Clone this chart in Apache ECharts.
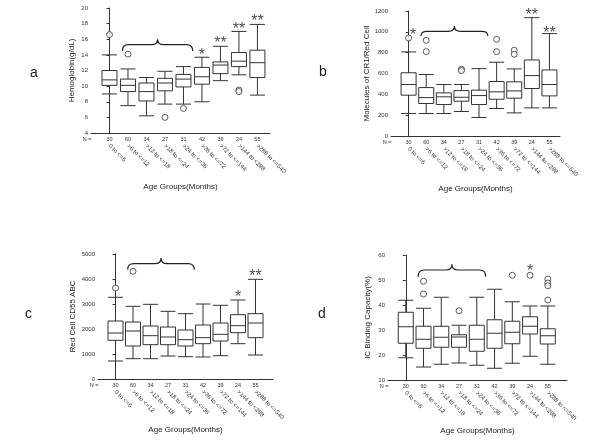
<!DOCTYPE html>
<html>
<head>
<meta charset="utf-8">
<script src="https://cdn.jsdelivr.net/npm/echarts@6/dist/echarts.min.js"></script>
<style>html,body{margin:0;padding:0;background:#fff;}#chart{width:600px;height:443px;}</style>
</head>
<body>
<div id="chart"></div>
<script>
// ---- data ----
const categories = ['0 to <=6', '>6 to <=12', '>12 to <=18', '>18 to <=24', '>24 to <=36', '>36 to <=72', '>72 to <=144', '>144 to <288', '>288 to <=540'];
const nCounts = [30, 60, 34, 27, 31, 42, 39, 24, 55];

// [min, Q1, median, Q3, max]
const hemoglobinBoxes = [[9.0,10.1,10.8,12.0,14.0],[7.5,9.3,10.1,10.9,12.2],[6.2,8.1,9.3,10.4,11.1],[7.7,9.4,10.4,11.0,11.9],[7.7,9.9,10.9,11.5,12.5],[8.0,10.25,11.2,12.4,13.7],[10.7,11.6,12.7,13.1,15.1],[11.45,12.5,13.2,14.3,17.0],[8.85,11.1,13.0,14.6,17.9]];
const hemoglobinOutliers = [[0,16.6],[1,14.1],[3,6.0],[4,7.15],[7,9.5],[7,9.3]];
const hemoglobinStars = [[5,14.4,'*'],[6,15.9,'**'],[7,17.8,'**'],[8,18.8,'**']];
const hemoglobinBrace = [0.7, 4.5, 14.5, 15.3, 16.0];

const cr1Boxes = [[216,392,494,607,807],[216,312,369,465,590],[216,302,376,414,494],[235,334,372,436,494],[178,302,388,440,647],[264,353,424,523,708],[222,363,433,520,644],[270,456,580,730,1136],[270,385,494,634,983]];
const cr1Outliers = [[0,941],[1,919],[1,810],[3,641],[3,628],[5,928],[5,810],[6,823],[6,785]];
const cr1Stars = [[0.25,1000,'*'],[7,1190,'**'],[8,1024,'**']];
const cr1Brace = [0.7, 4.5, 960, 1005, 1056];

const cd55Boxes = [[720,1547,1840,2320,3267],[813,1320,1920,2280,2907],[813,1373,1733,2120,2987],[920,1373,1680,2080,2707],[893,1320,1573,1960,2613],[880,1413,1653,2160,3000],[933,1520,1787,2240,2947],[1413,1853,2133,2573,3160],[960,1653,2240,2613,3987]];
const cd55Outliers = [[0,3640],[1,4307]];
const cd55Stars = [[7,3413,'*'],[8,4240,'**']];
const cd55Brace = [0.7, 4.5, 4373, 4613, 4840];

const icBoxes = [[18.9,24.7,31.3,37.1,41.9],[15.2,22.7,26.3,31.5,38.7],[16.3,23.1,27.1,31.5,43.1],[16.8,23.1,27.2,28.1,31.9],[15.9,21.5,26.3,31.9,43.1],[14.7,22.7,28.7,34.1,46.3],[16.7,24.5,29.1,33.5,41.3],[19.5,28.4,31.5,35.3,39.6],[16.3,24.4,27.7,30.5,39.6]];
const icOutliers = [[1,49.5],[1,44.4],[3,37.7],[6,51.9],[7,51.9],[8,50.4],[8,48.8],[8,47.7],[8,42.0]];
const icStars = [[7,55,'*']];
const icBrace = [0.7, 4.5, 51.3, 54.0, 56.3];

const xTitle = 'Age Groups(Months)';

// ---- layout ----
const panels = [
  {letter:'a', boxes:hemoglobinBoxes, outliers:hemoglobinOutliers, stars:hemoglobinStars, brace:hemoglobinBrace,
   yName:'Hemoglobin(g/dL)', yMin:4, yMax:20, yInt:2, grid:{left:91, top:8, width:179, height:125}, xMax:8.68, yGap:15, xGap:50, lpos:[30,66]},
  {letter:'b', boxes:cr1Boxes, outliers:cr1Outliers, stars:cr1Stars, brace:cr1Brace,
   yName:'Molecules of CR1/Red Cell', yMin:0, yMax:1200, yInt:200, grid:{left:391, top:11, width:169, height:125}, xMax:8.6, yGap:20, xGap:49, lpos:[319,65]},
  {letter:'c', boxes:cd55Boxes, outliers:cd55Outliers, stars:cd55Stars, brace:cd55Brace,
   yName:'Red Cell CD55 ABC', yMin:0, yMax:5000, yInt:1000, grid:{left:98, top:254, width:175, height:125}, xMax:9.0, yGap:21, xGap:47, lpos:[25,307]},
  {letter:'d', boxes:icBoxes, outliers:icOutliers, stars:icStars, brace:icBrace,
   yName:'IC Binding Capacity(%)', yMin:10, yMax:60, yInt:10, grid:{left:388, top:255, width:179, height:125}, xMax:9.08, yGap:16, xGap:47, lpos:[318,307]}
];

const ink = '#333';
const grids = [], xAxes = [], yAxes = [], series = [], titles = [];

function isInt(v){ return Math.abs(v - Math.round(v)) < 1e-6; }

panels.forEach((p, k) => {
  grids.push(Object.assign({containLabel:false}, p.grid));
  titles.push({text:p.letter, left:p.lpos[0], top:p.lpos[1], padding:0,
    textStyle:{fontSize:14, fontWeight:'normal', color:'#222', fontFamily:'Liberation Sans, Arial, sans-serif'}});
  // main x axis with N counts
  xAxes.push({type:'value', gridIndex:k, min:-1, max:p.xMax, interval:1, position:'bottom',
    axisLine:{show:true, onZero:false, lineStyle:{color:ink, width:1}}, axisTick:{show:false}, splitLine:{show:false},
    axisLabel:{fontSize:5.5, margin:3, color:ink,
      formatter:v => { if(!isInt(v)) return ''; const i=Math.round(v); if(i===-1) return '{n|N =}'; return nCounts[i]!==undefined ? String(nCounts[i]) : ''; },
      rich:{n:{fontSize:5.5, color:ink, padding:[0,8,0,0]}}},
    name:xTitle, nameLocation:'middle', nameGap:p.xGap, nameTextStyle:{fontSize:8, color:'#222'}});
  // category names (rotated)
  xAxes.push({type:'value', gridIndex:k, min:-1, max:p.xMax, interval:1, position:'bottom', offset:0,
    axisLine:{show:false}, axisTick:{show:false}, splitLine:{show:false},
    axisLabel:{fontSize:6, margin:12, rotate:-45, color:ink,
      formatter:v => { if(!isInt(v)) return ''; const i=Math.round(v); return categories[i] || ''; }}});
  yAxes.push({type:'value', gridIndex:k, min:p.yMin, max:p.yMax, interval:p.yInt,
    axisLine:{show:true, lineStyle:{color:ink, width:1}}, axisTick:{show:true, length:3, lineStyle:{color:ink}},
    splitLine:{show:false}, axisLabel:{fontSize:6, margin:3, color:ink, formatter:v => String(v)},
    name:p.yName, nameLocation:'middle', nameGap:p.yGap, nameTextStyle:{fontSize:8, color:'#222'}});

  const xi = 2*k, yi = k;
  series.push({type:'boxplot', xAxisIndex:xi, yAxisIndex:yi, silent:true, boxWidth:[15,15],
    itemStyle:{color:'#fff', borderColor:ink, borderWidth:1},
    data:p.boxes.map((b,i) => [i].concat(b))});
  series.push({type:'scatter', xAxisIndex:xi, yAxisIndex:yi, silent:true, symbol:'circle', symbolSize:6,
    itemStyle:{color:'#fff', borderColor:ink, borderWidth:1}, data:p.outliers});
  series.push({type:'scatter', xAxisIndex:xi, yAxisIndex:yi, silent:true, symbolSize:0,
    label:{show:true, position:'inside', formatter:'{b}', fontSize:16, color:'#222', offset:[0,4]},
    data:p.stars.map(s => ({name:s[2], value:[s[0], s[1]]}))});
  series.push({type:'custom', xAxisIndex:xi, yAxisIndex:yi, silent:true, clip:false,
    data:[p.brace],
    renderItem:(params, api) => {
      const x0 = api.value(0), x1 = api.value(1), yt = api.value(2), yb = api.value(3), yp = api.value(4);
      const xm = (x0 + x1) / 2;
      const L = api.coord([x0, yt]), Lb = api.coord([x0, yb]);
      const R = api.coord([x1, yt]);
      const M = api.coord([xm, yp]), Mb = api.coord([xm, yb]);
      const r = 6;
      const d = 'M' + L[0] + ',' + L[1] +
        ' Q' + L[0] + ',' + Lb[1] + ' ' + (L[0]+r) + ',' + Lb[1] +
        ' L' + (Mb[0]-r) + ',' + Mb[1] +
        ' Q' + Mb[0] + ',' + Mb[1] + ' ' + M[0] + ',' + M[1] +
        ' Q' + Mb[0] + ',' + Mb[1] + ' ' + (Mb[0]+r) + ',' + Mb[1] +
        ' L' + (R[0]-r) + ',' + Mb[1] +
        ' Q' + R[0] + ',' + Mb[1] + ' ' + R[0] + ',' + R[1];
      return {type:'path', shape:{pathData:d}, style:{fill:'none', stroke:'#222', lineWidth:1.2}};
    }});
});

const chart = echarts.init(document.getElementById('chart'), null, {renderer:'canvas'});
chart.setOption({
  backgroundColor:'#fff',
  animation:false,
  textStyle:{fontFamily:'Liberation Sans, Arial, sans-serif'},
  title:titles, grid:grids, xAxis:xAxes, yAxis:yAxes, series:series
});
</script>
</body>
</html>
